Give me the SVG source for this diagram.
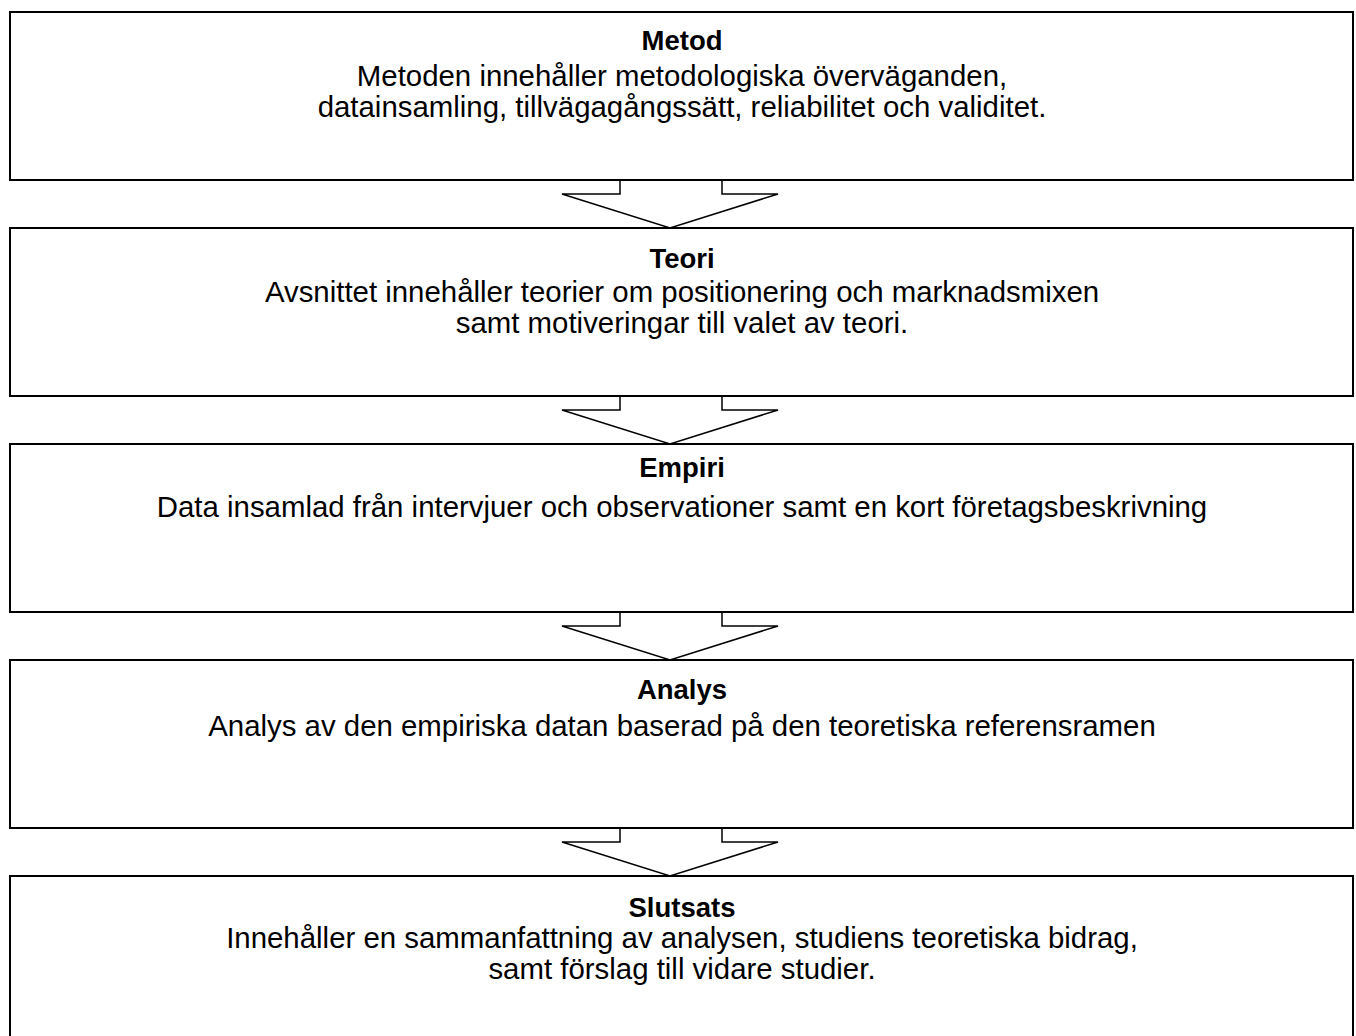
<svg xmlns="http://www.w3.org/2000/svg" width="1356" height="1036" viewBox="0 0 1356 1036">
<style>
.box{fill:#fff;stroke:#000;stroke-width:2}
.arr{fill:#fff;stroke:#000;stroke-width:1.5;stroke-linejoin:miter}
text{font-family:"Liberation Sans",Arial,sans-serif;fill:#000;text-anchor:middle}
.t{font-size:27.5px;font-weight:bold}
.b{font-size:29.4px}
</style>
<rect width="1356" height="1036" fill="#fff"/>
<g id="connectors">
<polyline class="arr" points="620,180 620,194 562,194 670,228 778,194 722,194 722,180"/>
<polyline class="arr" points="620,396 620,410 562,410 670,444 778,410 722,410 722,396"/>
<polyline class="arr" points="620,612 620,626 562,626 670,660 778,626 722,626 722,612"/>
<polyline class="arr" points="620,828 620,842 562,842 670,876 778,842 722,842 722,828"/>
</g>
<g id="metod">
<rect class="box" x="10" y="12" width="1343" height="168"/>
<text class="t" x="682" y="50">Metod</text>
<text class="b" x="682" y="86">Metoden innehåller metodologiska överväganden,</text>
<text class="b" x="682" y="117">datainsamling, tillvägagångssätt, reliabilitet och validitet.</text>
</g>
<g id="teori">
<rect class="box" x="10" y="228" width="1343" height="168"/>
<text class="t" x="682" y="268">Teori</text>
<text class="b" x="682" y="302">Avsnittet innehåller teorier om positionering och marknadsmixen</text>
<text class="b" x="682" y="333">samt motiveringar till valet av teori.</text>
</g>
<g id="empiri">
<rect class="box" x="10" y="444" width="1343" height="168"/>
<text class="t" x="682" y="477">Empiri</text>
<text class="b" x="682" y="517">Data insamlad från intervjuer och observationer samt en kort företagsbeskrivning</text>
</g>
<g id="analys">
<rect class="box" x="10" y="660" width="1343" height="168"/>
<text class="t" x="682" y="699">Analys</text>
<text class="b" x="682" y="736">Analys av den empiriska datan baserad på den teoretiska referensramen</text>
</g>
<g id="slutsats">
<rect class="box" x="10" y="876" width="1343" height="168"/>
<text class="t" x="682" y="917">Slutsats</text>
<text class="b" x="682" y="948">Innehåller en sammanfattning av analysen, studiens teoretiska bidrag,</text>
<text class="b" x="682" y="979">samt förslag till vidare studier.</text>
</g>
</svg>
